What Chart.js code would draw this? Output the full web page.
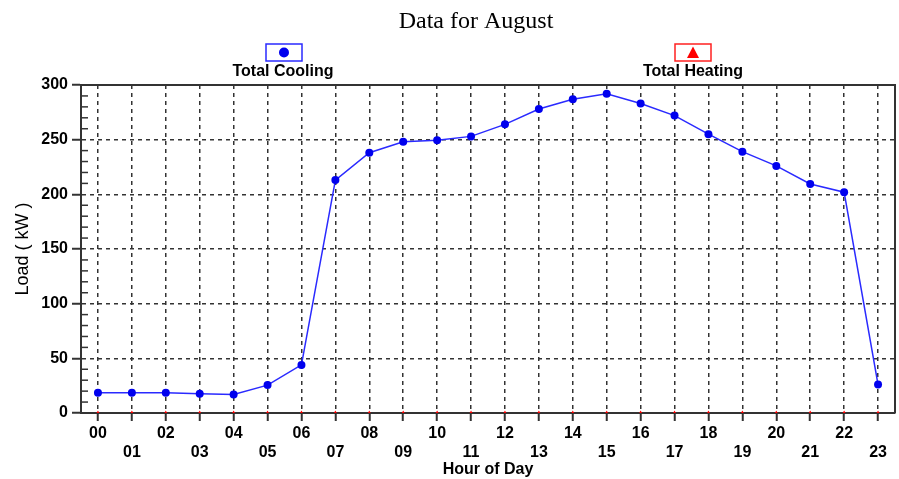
<!DOCTYPE html>
<html lang="en">
<head>
    <meta charset="UTF-8">
    <title>Data for August</title>
    <script src="https://cdn.jsdelivr.net/npm/chart.js"></script>
    <style>
        body {
            margin: 0;
            background: white;
        }
        .container {
            width: 899px;
            height: 479px;
        }
    </style>
</head>
<body>
    <div class="container">
        <canvas id="loadChart" width="899" height="479"></canvas>
    </div>

    <script>
        const hours = ['00', '01', '02', '03', '04', '05', '06', '07', '08', '09', '10', '11',
                       '12', '13', '14', '15', '16', '17', '18', '19', '20', '21', '22', '23'];
        const totalCooling = [18.5, 18.5, 18.5, 17.5, 17, 25.5, 44, 213, 238, 248, 249.5, 253,
                              264, 278, 287, 292, 283, 272, 255, 239, 226, 209.5, 202, 26];
        const totalHeating = [0, 0, 0, 0, 0, 0, 0, 0, 0, 0, 0, 0,
                              0, 0, 0, 0, 0, 0, 0, 0, 0, 0, 0, 0];
        const yTicks = [0, 50, 100, 150, 200, 250, 300];

        const sans = '"Liberation Sans", Arial, sans-serif';

        // title, legend boxes, frame and minor ticks drawn by hand
        const decorations = {
            id: 'decorations',
            afterDraw(chart) {
                const ctx = chart.ctx;
                const area = chart.chartArea;
                const y = chart.scales.y;
                ctx.save();

                // frame top + right
                ctx.strokeStyle = '#333';
                ctx.lineWidth = 2;
                ctx.beginPath();
                ctx.moveTo(area.left, area.top);
                ctx.lineTo(area.right, area.top);
                ctx.lineTo(area.right, area.bottom);
                ctx.stroke();

                // minor ticks on the y axis
                ctx.lineWidth = 1.5;
                for (let v = 10; v < 300; v += 10) {
                    if (v % 50 === 0) continue;
                    const py = y.getPixelForValue(v);
                    ctx.beginPath();
                    ctx.moveTo(area.left, py);
                    ctx.lineTo(area.left + 7, py);
                    ctx.stroke();
                }

                // title
                ctx.fillStyle = '#000';
                ctx.font = '24px "Liberation Serif", "Times New Roman", serif';
                ctx.textAlign = 'center';
                ctx.textBaseline = 'middle';
                ctx.fillText('Data for August', 476, 22);

                // legend
                ctx.font = 'bold 16px ' + sans;
                ctx.fillText('Total Cooling', 283, 72);
                ctx.fillText('Total Heating', 693, 72);

                ctx.lineWidth = 1.5;
                ctx.strokeStyle = '#2a2aff';
                ctx.strokeRect(266, 44, 36, 17);
                ctx.fillStyle = '#0000ee';
                ctx.beginPath();
                ctx.arc(284, 52.5, 5, 0, Math.PI * 2);
                ctx.fill();

                ctx.strokeStyle = '#ff2020';
                ctx.strokeRect(675, 44, 36, 17);
                ctx.fillStyle = '#ff0000';
                ctx.beginPath();
                ctx.moveTo(693, 46.5);
                ctx.lineTo(699, 58);
                ctx.lineTo(687, 58);
                ctx.closePath();
                ctx.fill();

                ctx.restore();
            }
        };

        const ctx = document.getElementById('loadChart').getContext('2d');
        new Chart(ctx, {
            type: 'line',
            data: {
                labels: hours,
                datasets: [
                    {
                        label: 'Total Cooling',
                        data: totalCooling,
                        borderColor: '#2a2aff',
                        backgroundColor: '#0000ee',
                        borderWidth: 1.5,
                        pointRadius: 4,
                        pointBorderWidth: 0,
                        tension: 0,
                        fill: false
                    },
                    {
                        label: 'Total Heating',
                        data: totalHeating,
                        showLine: false,
                        pointStyle: 'triangle',
                        pointRadius: 2.5,
                        pointBorderWidth: 0,
                        backgroundColor: '#ff0000',
                        borderColor: '#ff0000'
                    }
                ]
            },
            options: {
                responsive: false,
                animation: false,
                layout: {
                    padding: { top: 85, right: 1, left: 0, bottom: 0 }
                },
                plugins: {
                    legend: { display: false },
                    title: { display: false },
                    tooltip: { enabled: false }
                },
                scales: {
                    x: {
                        offset: true,
                        afterFit: scale => { scale.height = 66; },
                        grid: {
                            offset: false,
                            color: '#333',
                            lineWidth: 1.5,
                            drawTicks: true,
                            tickLength: 8,
                            tickColor: '#333',
                            tickWidth: 2
                        },
                        border: { color: '#333', width: 2, dash: [4, 4] },
                        ticks: {
                            autoSkip: false,
                            maxRotation: 0,
                            padding: 3,
                            color: '#000',
                            font: { family: sans, size: 16, weight: 'bold' },
                            callback: (value, index) => index % 2 === 0 ? hours[index] : ['', hours[index]]
                        },
                        title: {
                            display: true,
                            text: 'Hour of Day',
                            color: '#000',
                            padding: { top: 0, bottom: 0 },
                            font: { family: sans, size: 16, weight: 'bold' }
                        }
                    },
                    y: {
                        min: 0,
                        max: 300,
                        afterFit: scale => { scale.width = 81; },
                        afterBuildTicks: scale => { scale.ticks = yTicks.map(v => ({ value: v })); },
                        grid: {
                            color: '#333',
                            lineWidth: 1.5,
                            tickLength: 9,
                            tickColor: '#333',
                            tickWidth: 2
                        },
                        border: { color: '#333', width: 2, dash: [4, 4] },
                        ticks: {
                            padding: 4,
                            color: '#000',
                            font: { family: sans, size: 16, weight: 'bold' }
                        },
                        title: {
                            display: true,
                            text: 'Load ( kW )',
                            color: '#000',
                            padding: { top: 12, bottom: 0 },
                            font: { family: sans, size: 18 }
                        }
                    }
                }
            },
            plugins: [decorations]
        });
    </script>
</body>
</html>
